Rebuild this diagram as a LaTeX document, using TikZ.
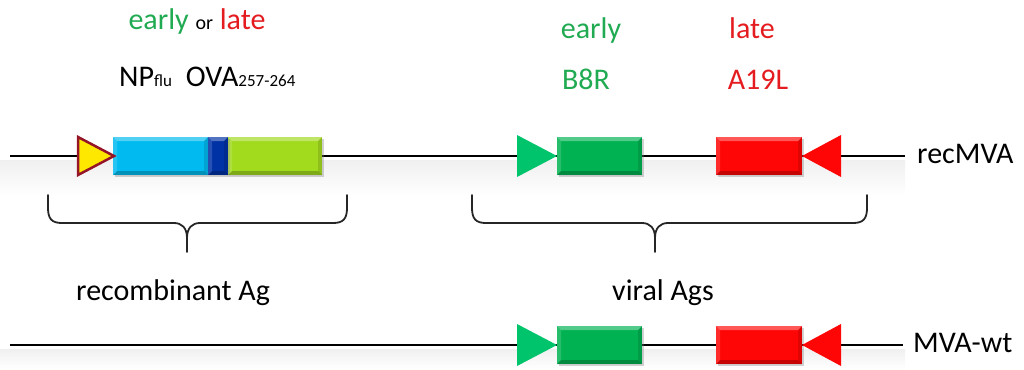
\documentclass[tikz,border=0pt]{standalone}
\usepackage{fontspec}
\setmainfont{Carlito}
\usetikzlibrary{shadows,calc}

\definecolor{npcyan}{RGB}{0,186,240}
\definecolor{ovablue}{RGB}{0,50,165}
\definecolor{limegreen}{RGB}{162,218,30}
\definecolor{genegreen}{RGB}{0,178,82}
\definecolor{trigreen}{RGB}{0,196,108}
\definecolor{genered}{RGB}{255,6,6}
\definecolor{promyellow}{RGB}{255,232,0}
\definecolor{promedge}{RGB}{150,20,40}
\definecolor{txtgreen}{RGB}{32,170,82}
\definecolor{txtred}{RGB}{228,28,32}

\newcommand\subsz{\fontsize{17}{20}\selectfont}
\newcommand\orsz{\fontsize{20}{24}\selectfont}

% bevelled edges of a gene box
\newcommand\genebevel[1]{%
  \fill[white,opacity=0.32] (#1.north west) -- (#1.north east) -- ([shift={(-4,4)}]#1.north east) -- ([shift={(4,4)}]#1.north west) -- cycle;
  \fill[black,opacity=0.22] (#1.south west) -- (#1.south east) -- ([shift={(-4,-4)}]#1.south east) -- ([shift={(4,-4)}]#1.south west) -- cycle;
  \fill[white,opacity=0.15] (#1.north west) -- ([shift={(4,4)}]#1.north west) -- ([shift={(4,-4)}]#1.south west) -- (#1.south west) -- cycle;
  \fill[black,opacity=0.12] (#1.north east) -- ([shift={(-4,4)}]#1.north east) -- ([shift={(-4,-4)}]#1.south east) -- (#1.south east) -- cycle;
}

\tikzset{
  gene/.style={rectangle, minimum height=38pt, inner sep=0pt, outer sep=0pt,
    drop shadow={opacity=0.35, shadow xshift=1.5pt, shadow yshift=-2pt}},
  dna/.style={line width=1.5pt, black},
  brace/.style={line width=1.8pt, black!85, line cap=round},
  lbl/.style={inner sep=0pt, font=\fontsize{30}{36}\selectfont},
}

\begin{document}
\begin{tikzpicture}[x=1pt,y=-1pt]
\useasboundingbox (0,0) rectangle (1024,369);

% soft reflection bands under the two genomes
\shade[top color=black!6, bottom color=white, middle color=black!3] (0,160) rectangle (905,196);
\shade[top color=black!6, bottom color=white] (0,349) rectangle (905,369);

% genome lines
\coordinate (s1) at (10,156);
\coordinate (e1) at (905,156);
\coordinate (s2) at (10,345);
\coordinate (e2) at (903,345);
\draw[dna] (s1) -- (e1);
\draw[dna] (s2) -- (e2);

% recMVA: recombinant insert
\node[gene, fill=npcyan, minimum width=95pt] (np) at (160.5,156) {};
\node[gene, fill=limegreen, minimum width=94pt] (lime) at (275,156) {};
\node[gene, fill=ovablue, minimum width=20pt] (ova) at (218,156) {};
\genebevel{np}\genebevel{ova}\genebevel{lime}
\filldraw[fill=promyellow, draw=promedge, line width=2.5pt, line join=miter]
  (78,137) -- ([xshift=1pt]np.west) -- (78,175) -- cycle;

% recMVA: viral genes
\node[gene, fill=genegreen, minimum width=85pt] (b8r) at (599.5,156) {};
\node[gene, fill=genered, minimum width=86pt] (a19l) at (759,156) {};
\genebevel{b8r}\genebevel{a19l}
\fill[trigreen] (517,135) -- (b8r.west) -- (517,177) -- cycle;
\fill[genered] (841,135) -- (a19l.east) -- (841,177) -- cycle;

% MVA-wt: viral genes
\node[gene, fill=genegreen, minimum width=85pt] (b8rw) at (599.5,345) {};
\node[gene, fill=genered, minimum width=86pt] (a19lw) at (759,345) {};
\genebevel{b8rw}\genebevel{a19lw}
\fill[trigreen] (517,324) -- (b8rw.west) -- (517,366) -- cycle;
\fill[genered] (841,324) -- (a19lw.east) -- (841,366) -- cycle;

% braces
\draw[brace] (48,195) -- (48,208) .. controls (48,219) and (52,223) .. (62,223) -- (174,223)
  .. controls (182,223) and (187,228) .. (187,238) -- (187,252);
\draw[brace] (347,195) -- (347,208) .. controls (347,219) and (343,223) .. (333,223) -- (200,223)
  .. controls (192,223) and (187,228) .. (187,238);
\draw[brace] (472,195) -- (472,208) .. controls (472,219) and (476,223) .. (486,223) -- (642,223)
  .. controls (650,223) and (655,228) .. (655,238) -- (655,252);
\draw[brace] (867,195) -- (867,208) .. controls (867,219) and (863,223) .. (853,223) -- (668,223)
  .. controls (660,223) and (655,228) .. (655,238);

% labels
\node[lbl, anchor=base] (prom) at (197,30)
  {\textcolor{txtgreen}{early} {\orsz or} \textcolor{txtred}{late}};
\node[lbl, anchor=base west] (ins) at (119,86)
  {NP{\subsz flu}\hspace{14pt}OVA{\subsz 257-264}};
\node[lbl, anchor=base, text=txtgreen] (early) at (591,38) {early};
\node[lbl, anchor=base, text=txtgreen] (b8rl) at (586,89) {B8R};
\node[lbl, anchor=base, text=txtred] (late) at (752,38) {late};
\node[lbl, anchor=base, text=txtred] (a19ll) at (758,89) {A19L};
\node[lbl, anchor=base west] (recag) at (76,300) {recombinant Ag};
\node[lbl, anchor=base west] (virag) at (612,300) {viral Ags};
\node[lbl, anchor=base west] (recmva) at (917,163) {recMVA};
\node[lbl, anchor=base west] (mvawt) at (913,352) {MVA-wt};
\end{tikzpicture}
\end{document}
